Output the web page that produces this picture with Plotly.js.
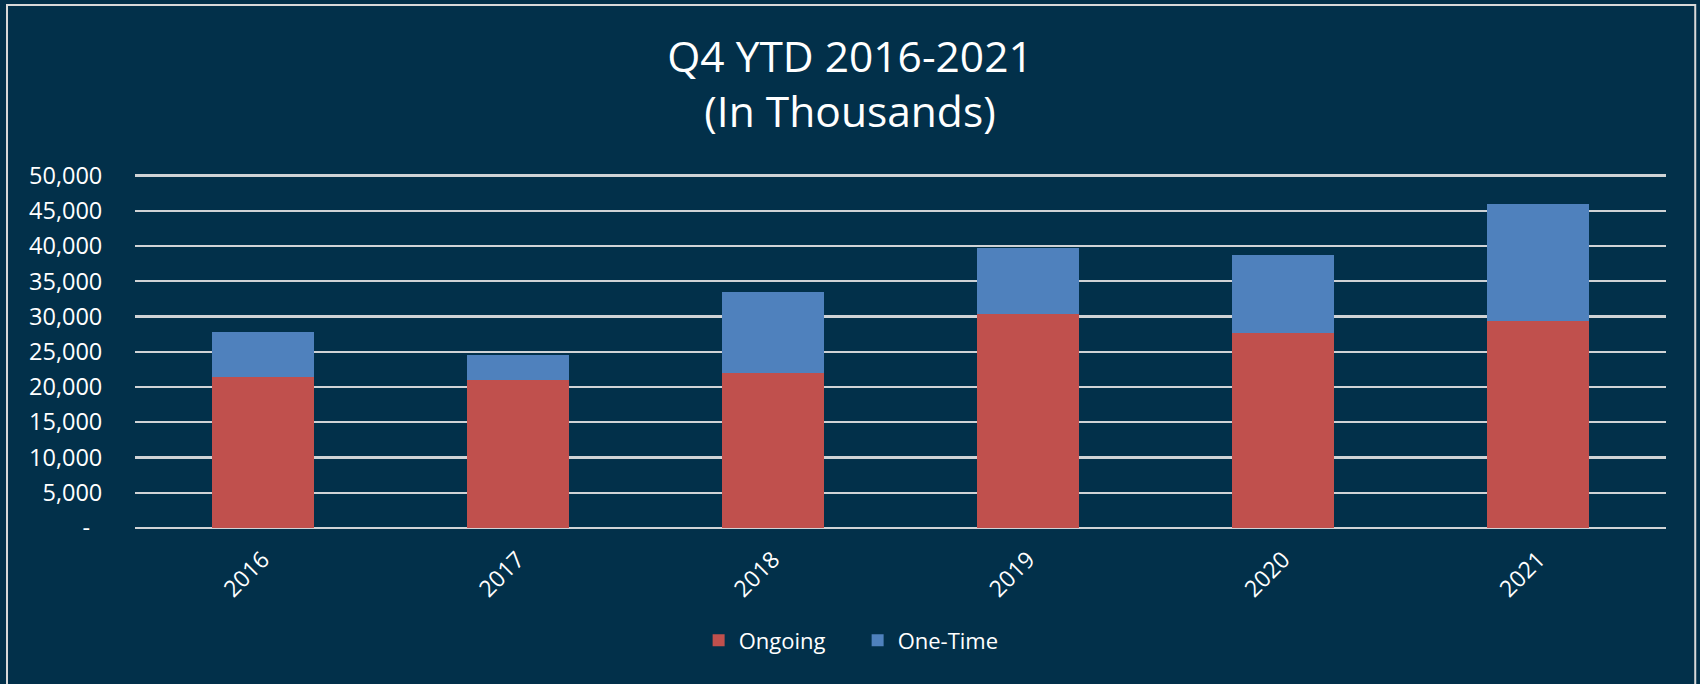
<!DOCTYPE html>
<html>
<head>
<meta charset="utf-8">
<script src="https://cdn.plot.ly/plotly-3.0.1.min.js"></script>
<style>
html,body{margin:0;padding:0;background:#02304A;}
#chart{width:1700px;height:684px;}
</style>
</head>
<body>
<div id="chart"></div>
<script>
const years = ['2016', '2017', '2018', '2019', '2020', '2021'];
const ongoing = [21450, 21030, 21940, 30330, 27690, 29300];
const oneTime = [6330, 3500, 11600, 9340, 11090, 16620];
const yTickVals = [0, 5000, 10000, 15000, 20000, 25000, 30000, 35000, 40000, 45000, 50000];
const yTickText = ['-\u00a0\u00a0', '5,000', '10,000', '15,000', '20,000', '25,000', '30,000', '35,000', '40,000', '45,000', '50,000'];

const bg = '#02304A';
const fontFam = '"Open Sans", "Noto Sans", sans-serif';

const traces = [
  {type: 'bar', name: 'Ongoing', x: years, y: ongoing, marker: {color: '#C0504D'}},
  {type: 'bar', name: 'One-Time', x: years, y: oneTime, marker: {color: '#4F81BD'}}
];

const layout = {
  width: 1700, height: 684,
  paper_bgcolor: bg, plot_bgcolor: bg,
  barmode: 'stack', bargap: 0.6,
  margin: {l: 135, r: 34, t: 171.5, b: 155.7, autoexpand: false},
  font: {family: fontFam, color: '#ffffff', size: 23},
  title: {
    text: 'Q4 YTD 2016-2021<br>(In Thousands)',
    font: {family: fontFam, size: 42.5, color: '#ffffff'},
    x: 0.5, xref: 'container', xanchor: 'center',
    y: 0.895, yref: 'container', yanchor: 'top'
  },
  xaxis: {
    type: 'category', tickangle: -45, showgrid: false, zeroline: false, showline: false,
    ticks: 'outside', ticklen: 8, tickcolor: 'rgba(0,0,0,0)',
    tickfont: {family: fontFam, size: 23, color: '#ffffff'}
  },
  yaxis: {
    range: [0, 50500], tickmode: 'array', tickvals: yTickVals, ticktext: yTickText,
    showgrid: true, gridcolor: '#D0D3D6', gridwidth: 2.2,
    zeroline: true, zerolinecolor: '#D0D3D6', zerolinewidth: 2.2, showline: false,
    ticks: 'outside', ticklen: 27, tickcolor: 'rgba(0,0,0,0)',
    tickfont: {family: fontFam, size: 23.5, color: '#ffffff'}
  },
  legend: {
    orientation: 'h', x: 0.472, xanchor: 'center', y: -0.316, yanchor: 'middle',
    traceorder: 'normal', entrywidth: 114, entrywidthmode: 'pixels',
    font: {family: fontFam, size: 22, color: '#ffffff'}, bgcolor: 'rgba(0,0,0,0)'
  },
  shapes: [
    {type: 'rect', xref: 'paper', yref: 'paper', x0: -0.0836, x1: 1.0191, y0: -0.5, y1: 1.469,
     line: {color: '#D9D9D9', width: 2}, fillcolor: 'rgba(0,0,0,0)', layer: 'below'}
  ],
  showlegend: true
};

Plotly.newPlot('chart', traces, layout, {displayModeBar: false, staticPlot: true});
</script>
</body>
</html>
